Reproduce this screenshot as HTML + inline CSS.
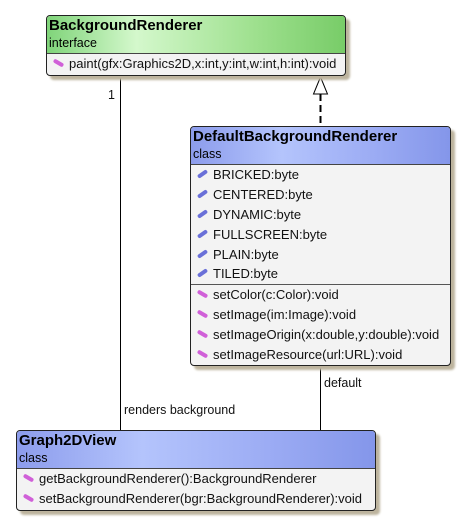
<!DOCTYPE html><html><head><style>
body{margin:0;width:470px;height:530px;background:#fff;position:relative;font-family:"Liberation Sans",sans-serif;overflow:hidden}
.box{position:absolute;border:1px solid #222;border-radius:4px;background:#f3f3f3;box-shadow:4px 4px 2px #bdb49e;overflow:hidden}
.hd{border-bottom:1px solid #444;padding:1px 2px 0 2px;height:36px;box-sizing:border-box}
.g{background:linear-gradient(90deg,#80d47a,#d4f8cc 30%,#9ee08e 70%,#78cc68)}
.b{background:linear-gradient(90deg,#8c9cec,#b4c4fc 35%,#9cacf4 70%,#8496ea)}
.t{font-weight:bold;font-size:15px;line-height:18px}
.s{font-size:12.5px;line-height:16px}
.r{font-size:13px;height:19.9px;line-height:19.9px;padding-left:22px;position:relative;color:#111;white-space:nowrap}
.r:before{content:"";position:absolute;left:6px;top:7px;width:11px;height:4px;transform:rotate(-35deg);border-radius:2px}
.m:before{background:#d060d8;transform:rotate(30deg)}
.a:before{background:#6a70d8}
.sep{border-top:1px solid #555}
.lb{position:absolute;font-size:12.5px;color:#111}
</style></head><body>
<svg width="470" height="530" style="position:absolute;left:0;top:0">
<line x1="120.5" y1="75" x2="120.5" y2="430" stroke="#000"/>
<line x1="320.5" y1="365" x2="320.5" y2="430" stroke="#000"/>
<line x1="320.5" y1="94" x2="320.5" y2="126" stroke="#000" stroke-width="2" stroke-dasharray="7,4"/>
<polygon points="320.5,77 313.5,94 327.5,94" fill="#fff" stroke="#000"/>
</svg>
<div class="box" style="left:46px;top:15px;width:298px;height:59px">
<div class="hd g" style="height:38px"><div class="t">BackgroundRenderer</div><div class="s">interface</div></div>
<div class="r m">paint(gfx:Graphics2D,x:int,y:int,w:int,h:int):void</div>
</div>
<div class="box" style="left:190px;top:126px;width:259px;height:238px">
<div class="hd b" style="height:38px"><div class="t">DefaultBackgroundRenderer</div><div class="s">class</div></div>
<div class="r a">BRICKED:byte</div><div class="r a">CENTERED:byte</div><div class="r a">DYNAMIC:byte</div><div class="r a">FULLSCREEN:byte</div><div class="r a">PLAIN:byte</div><div class="r a">TILED:byte</div>
<div class="sep"></div>
<div class="r m">setColor(c:Color):void</div><div class="r m">setImage(im:Image):void</div><div class="r m">setImageOrigin(x:double,y:double):void</div><div class="r m">setImageResource(url:URL):void</div>
</div>
<div class="box" style="left:16px;top:430px;width:358px;height:79px">
<div class="hd b" style="height:38px"><div class="t">Graph2DView</div><div class="s">class</div></div>
<div class="r m">getBackgroundRenderer():BackgroundRenderer</div>
<div class="r m">setBackgroundRenderer(bgr:BackgroundRenderer):void</div>
</div>
<div class="lb" style="left:108px;top:88px">1</div>
<div class="lb" style="left:124px;top:403px">renders background</div>
<div class="lb" style="left:324px;top:376px">default</div>
</body></html>
